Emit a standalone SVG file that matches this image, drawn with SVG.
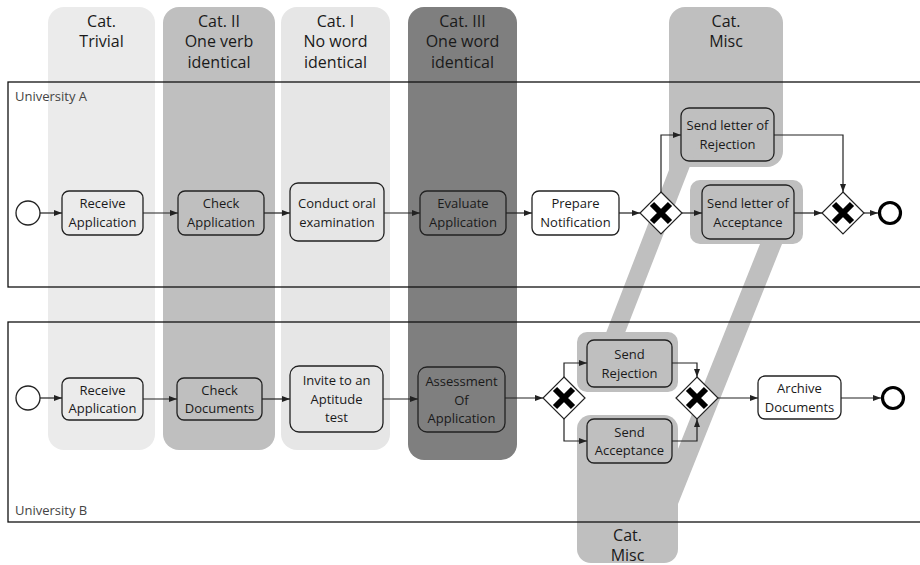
<svg xmlns="http://www.w3.org/2000/svg" width="920" height="565" viewBox="0 0 920 565">
<defs>
<marker id="arr" viewBox="0 0 8 6" refX="8" refY="3" markerWidth="8" markerHeight="6" markerUnits="userSpaceOnUse" orient="auto"><path d="M0,0 L8,3 L0,6 z" fill="#222"/></marker>
</defs>
<style>
.lane{fill:none;stroke:#111;stroke-width:1.3}
.task{fill:none;stroke:#222;stroke-width:1.3}
.wt{fill:#fff;stroke:#222;stroke-width:1.3}
.t{font-family:"Open Sans","Noto Sans",sans-serif;font-size:13px;fill:#1a1a1a;text-anchor:middle}
.h{font-family:"Open Sans","Noto Sans",sans-serif;font-size:16px;fill:#1a1a1a;text-anchor:middle}
.lbl{font-family:"Open Sans","Noto Sans",sans-serif;font-size:13px;fill:#444}
.c{fill:none;stroke:#222;stroke-width:1.2;marker-end:url(#arr)}
.gw{fill:#fff;stroke:#222;stroke-width:1.2}
.x{stroke:#000;stroke-width:6;fill:none}
.ev{fill:#fff;stroke:#222;stroke-width:1.3}
.end{fill:#fff;stroke:#000;stroke-width:3.2}
</style>

<g id="bands">
<rect x="48" y="7" width="107" height="443" rx="16" fill="#ebebeb"/>
<rect x="163" y="7" width="112" height="443" rx="16" fill="#bfbfbf"/>
<rect x="281" y="7" width="109" height="443" rx="16" fill="#e6e6e6"/>
<rect x="408" y="7" width="109" height="453" rx="16" fill="#7f7f7f"/>
<rect x="669" y="7" width="114" height="160" rx="16" fill="#bfbfbf"/>
<polygon points="669,140 700,140 688.5,170 623,338 604,338 669,170" fill="#bfbfbf"/>
<rect x="577" y="332" width="101" height="60" rx="10" fill="#bfbfbf"/>
<rect x="690" y="180" width="113" height="64" rx="10" fill="#bfbfbf"/>
<polygon points="762,239 784,239 676,509 654,509" fill="#bfbfbf"/>
<rect x="577" y="415" width="101" height="148" rx="14" fill="#bfbfbf"/>
<text class="h" x="101.5" y="27">Cat.</text>
<text class="h" x="101.5" y="47">Trivial</text>
<text class="h" x="219" y="27">Cat. II</text>
<text class="h" x="219" y="47">One verb</text>
<text class="h" x="219" y="67.5">identical</text>
<text class="h" x="335.5" y="27">Cat. I</text>
<text class="h" x="335.5" y="47">No word</text>
<text class="h" x="335.5" y="67.5">identical</text>
<text class="h" x="462.5" y="27">Cat. III</text>
<text class="h" x="462.5" y="47">One word</text>
<text class="h" x="462.5" y="67.5">identical</text>
<text class="h" x="726" y="27">Cat.</text>
<text class="h" x="726" y="47">Misc</text>
<text class="h" x="627.5" y="541">Cat.</text>
<text class="h" x="627.5" y="561">Misc</text>
</g>

<g id="laneA">
<rect class="lane" x="8" y="82" width="930" height="205"/>
<text class="lbl" x="15" y="101">University A</text>
</g>
<g id="laneB">
<rect class="lane" x="8" y="322" width="930" height="200"/>
<text class="lbl" x="15" y="515">University B</text>
</g>

<g id="connectors">
<path class="c" d="M40,213 H62"/>
<path class="c" d="M143,213 H178"/>
<path class="c" d="M264,213 H290"/>
<path class="c" d="M384,213 H420"/>
<path class="c" d="M506,213 H532"/>
<path class="c" d="M619,213 H640"/>
<path class="c" d="M661,192 V135 H681"/>
<path class="c" d="M774,135 H843 V192"/>
<path class="c" d="M682,213 H702"/>
<path class="c" d="M794,213 H822"/>
<path class="c" d="M864,213 H878"/>
<path class="c" d="M40,398 H62"/>
<path class="c" d="M143,399 H177"/>
<path class="c" d="M262,399 H290"/>
<path class="c" d="M383,399 H418"/>
<path class="c" d="M505,398 H543"/>
<path class="c" d="M564,377 V363 H587"/>
<path class="c" d="M564,419 V441 H587"/>
<path class="c" d="M672,363 H697 V377"/>
<path class="c" d="M672,441 H697 V419"/>
<path class="c" d="M718,398 H758"/>
<path class="c" d="M841,398 H881"/>
</g>

<g id="startA"><circle class="ev" cx="28" cy="213" r="12"/></g>
<g id="receiveA"><rect class="task" x="62" y="191" width="81" height="44" rx="7"/>
<text class="t" x="102.5" y="208">Receive</text><text class="t" x="102.5" y="226.5">Application</text></g>
<g id="checkA"><rect class="task" x="178" y="191" width="86" height="44" rx="7"/>
<text class="t" x="221" y="208">Check</text><text class="t" x="221" y="226.5">Application</text></g>
<g id="conductA"><rect class="task" x="290" y="183" width="94" height="58" rx="8"/>
<text class="t" x="337" y="208">Conduct oral</text><text class="t" x="337" y="226.5">examination</text></g>
<g id="evaluateA"><rect class="task" x="420" y="191" width="86" height="44" rx="7"/>
<text class="t" x="463" y="208">Evaluate</text><text class="t" x="463" y="226.5">Application</text></g>
<g id="prepareA"><rect class="wt" x="532" y="191" width="87" height="44" rx="7"/>
<text class="t" x="575.5" y="208">Prepare</text><text class="t" x="575.5" y="226.5">Notification</text></g>
<g id="gw1A"><polygon class="gw" points="661,192 682,213 661,234 640,213"/><path class="x" d="M652,204 L670,222 M670,204 L652,222"/></g>
<g id="rejectA"><rect class="task" x="681" y="108" width="93" height="53" rx="8"/>
<text class="t" x="727.5" y="130">Send letter of</text><text class="t" x="727.5" y="148.5">Rejection</text></g>
<g id="acceptA"><rect class="task" x="702" y="185" width="92" height="54" rx="8"/>
<text class="t" x="748" y="208">Send letter of</text><text class="t" x="748" y="226.5">Acceptance</text></g>
<g id="gw2A"><polygon class="gw" points="843,192 864,213 843,234 822,213"/><path class="x" d="M834,204 L852,222 M852,204 L834,222"/></g>
<g id="endA"><circle class="end" cx="890" cy="213" r="10.5"/></g>

<g id="startB"><circle class="ev" cx="28" cy="398" r="12"/></g>
<g id="receiveB"><rect class="task" x="62" y="378" width="81" height="42" rx="7"/>
<text class="t" x="102.5" y="394.5">Receive</text><text class="t" x="102.5" y="413">Application</text></g>
<g id="checkB"><rect class="task" x="177" y="378" width="85" height="42" rx="7"/>
<text class="t" x="219.5" y="394.5">Check</text><text class="t" x="219.5" y="413">Documents</text></g>
<g id="inviteB"><rect class="task" x="290" y="366" width="93" height="66" rx="9"/>
<text class="t" x="336.5" y="385.3">Invite to an</text><text class="t" x="336.5" y="403.8">Aptitude</text><text class="t" x="336.5" y="422.3">test</text></g>
<g id="assessB"><rect class="task" x="418" y="367" width="87" height="65" rx="9"/>
<text class="t" x="461.5" y="386">Assessment</text><text class="t" x="461.5" y="404.5">Of</text><text class="t" x="461.5" y="423">Application</text></g>
<g id="gw1B"><polygon class="gw" points="564,377 585,398 564,419 543,398"/><path class="x" d="M555,389 L573,407 M573,389 L555,407"/></g>
<g id="rejectB"><rect class="task" x="587" y="340" width="85" height="47" rx="7"/>
<text class="t" x="629.5" y="359">Send</text><text class="t" x="629.5" y="377.5">Rejection</text></g>
<g id="acceptB"><rect class="task" x="587" y="419" width="85" height="44" rx="7"/>
<text class="t" x="629.5" y="436.5">Send</text><text class="t" x="629.5" y="455">Acceptance</text></g>
<g id="gw2B"><polygon class="gw" points="697,377 718,398 697,419 676,398"/><path class="x" d="M688,389 L706,407 M706,389 L688,407"/></g>
<g id="archiveB"><rect class="wt" x="758" y="376" width="83" height="43" rx="7"/>
<text class="t" x="799.5" y="393">Archive</text><text class="t" x="799.5" y="411.5">Documents</text></g>
<g id="endB"><circle class="end" cx="893" cy="398" r="10.5"/></g>
</svg>
